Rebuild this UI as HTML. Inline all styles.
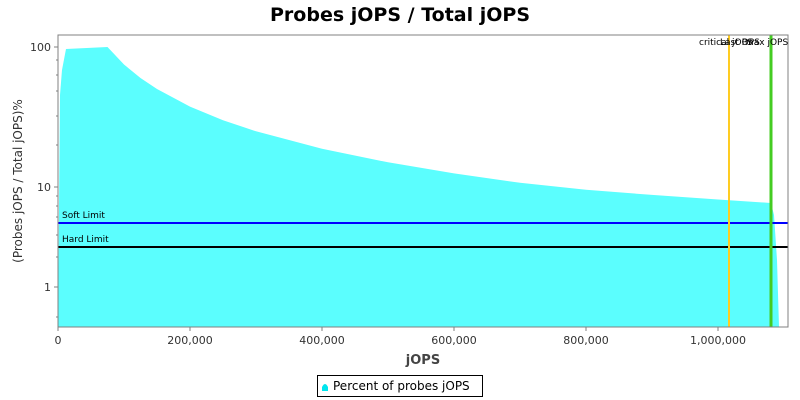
<!DOCTYPE html>
<html><head><meta charset="utf-8"><style>
body{margin:0;background:#fff}
svg{display:block;font-family:"DejaVu Sans","Liberation Sans",sans-serif}
</style></head><body>
<svg width="800" height="400" viewBox="0 0 800 400">
<rect width="800" height="400" fill="#fff"/>
<text x="400" y="21" text-anchor="middle" font-size="19" font-weight="bold" fill="#000">Probes jOPS / Total jOPS</text>
<rect x="58" y="35" width="730" height="292" fill="#fff"/>
<polygon fill="#5bfefe" points="58,327 60,95 62,70 66,49 107.5,47 124,64.5 140.5,78 157,89 190,106.6 223,120.2 256,131.3 322,148.8 388,162.3 454,173.4 520,182.8 586,189.8 652,194.9 718,199.5 771,203 774,215 777,260 779,327"/>
<line x1="58" y1="223" x2="788" y2="223" stroke="#0000ff" stroke-width="2"/>
<line x1="58" y1="247" x2="788" y2="247" stroke="#000" stroke-width="2"/>
<text x="62" y="218" font-size="9" fill="#000">Soft Limit</text>
<text x="62" y="242" font-size="9" fill="#000">Hard Limit</text>
<line x1="729" y1="35" x2="729" y2="327" stroke="#ffcc22" stroke-width="2"/>
<line x1="771" y1="35" x2="771" y2="327" stroke="#44cc22" stroke-width="3"/>
<g font-size="9" fill="#000">
<text x="699" y="45">critical jOPS</text>
<text x="720" y="45">Last OPS</text>
<text x="745" y="45">max jOPS</text>
</g>
<rect x="58" y="35" width="730" height="292" fill="none" stroke="#808080"/>
<g stroke="#808080">
<line x1="54" y1="47" x2="58" y2="47"/><line x1="54" y1="187" x2="58" y2="187"/><line x1="54" y1="287" x2="58" y2="287"/>
<line x1="56" y1="60" x2="58" y2="60"/><line x1="56" y1="75" x2="58" y2="75"/><line x1="56" y1="91" x2="58" y2="91"/><line x1="56" y1="116" x2="58" y2="116"/><line x1="56" y1="145" x2="58" y2="145"/>
<line x1="56" y1="196" x2="58" y2="196"/><line x1="56" y1="206" x2="58" y2="206"/><line x1="56" y1="217" x2="58" y2="217"/><line x1="56" y1="235" x2="58" y2="235"/><line x1="56" y1="257" x2="58" y2="257"/><line x1="56" y1="317" x2="58" y2="317"/>
<line x1="58" y1="327" x2="58" y2="331"/><line x1="190" y1="327" x2="190" y2="331"/><line x1="322" y1="327" x2="322" y2="331"/><line x1="454" y1="327" x2="454" y2="331"/><line x1="586" y1="327" x2="586" y2="331"/><line x1="718" y1="327" x2="718" y2="331"/>
</g>
<g font-size="11" fill="#333" text-anchor="end">
<text x="51" y="51">100</text><text x="51" y="191">10</text><text x="51" y="291">1</text>
</g>
<g font-size="11" fill="#333" text-anchor="middle">
<text x="58" y="344">0</text><text x="190" y="344">200,000</text><text x="322" y="344">400,000</text><text x="454" y="344">600,000</text><text x="586" y="344">800,000</text><text x="718" y="344">1,000,000</text>
</g>
<text x="423" y="364" text-anchor="middle" font-size="13" font-weight="bold" fill="#444">jOPS</text>
<text transform="translate(22,181) rotate(-90)" text-anchor="middle" font-size="12" fill="#333">(Probes jOPS / Total jOPS)%</text>
<rect x="317.5" y="375.5" width="165" height="21" fill="#fff" stroke="#000"/>
<path d="M322,391 L322,387 Q325,381 328,387 L328,391 Z" fill="#00e5ee"/>
<text x="333" y="390" font-size="12" fill="#000">Percent of probes jOPS</text>
</svg>
</body></html>
